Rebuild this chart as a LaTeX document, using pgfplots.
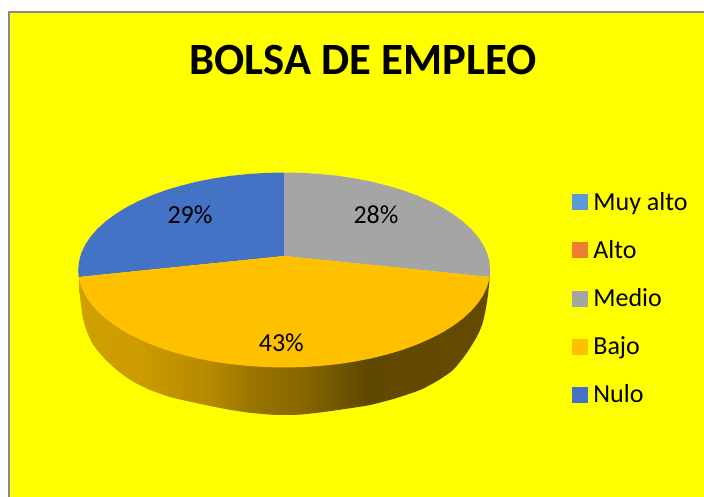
\documentclass[border=0pt]{standalone}
\usepackage{fontspec}
\setmainfont{Carlito}
\usepackage{pgfplots}
\pgfplotsset{compat=1.18}
\definecolor{cYellow}{rgb}{1,1,0}
\definecolor{cBlue}{HTML}{4472C4}
\definecolor{cGray}{HTML}{A5A5A5}
\definecolor{cOrange}{HTML}{FFC000}
\definecolor{cLight}{HTML}{5B9BD5}
\definecolor{cRed}{HTML}{ED7D31}
\definecolor{cEdge}{HTML}{888888}
\definecolor{sA}{HTML}{D0A000}
\definecolor{sB}{HTML}{CC9C00}
\definecolor{sC}{HTML}{B58900}
\definecolor{sD}{HTML}{9B7500}
\definecolor{sE}{HTML}{8A6800}
\definecolor{sF}{HTML}{705500}
\definecolor{sG}{HTML}{5C4500}
\definecolor{sH}{HTML}{614900}
\definecolor{sI}{HTML}{634A00}
% side of the pie; the path fills 25bp..75bp of the shading
\pgfdeclarehorizontalshading{pieside}{100bp}{
  color(0bp)=(sA); color(25bp)=(sA);
  color(32.4bp)=(sB); color(41bp)=(sC);
  color(45.8bp)=(sD); color(51.9bp)=(sE);
  color(56.8bp)=(sF); color(60.4bp)=(sG);
  color(62.3bp)=(sH); color(75bp)=(sI);
  color(100bp)=(sI)
}
\pgfplotsset{
  swatch/.style={legend image code/.code={\fill[#1] (0bp,-7.5bp) rectangle (15bp,7.5bp);}}
}
\begin{document}
\begin{tikzpicture}
\begin{axis}[
  scale only axis,
  width=704bp, height=497bp,
  xmin=0, xmax=704, ymin=0, ymax=497,
  y dir=reverse,
  hide axis,
  legend style={
    at={(axis cs:572,190)}, anchor=north west,
    draw=none, fill=none, inner sep=0pt, outer sep=0pt,
    row sep=24.7bp, column sep=4bp,
    cells={anchor=west},
    font=\fontsize{26bp}{28bp}\selectfont
  },
]
% page and chart area
\addplot[forget plot, fill=white, draw=none] coordinates {(0,0) (704,0) (704,497) (0,497)} \closedcycle;
\addplot[forget plot, fill=cYellow, draw=none] coordinates {(8.8,12) (704,12) (704,497) (8.8,497)} \closedcycle;
\addplot[forget plot, draw=cEdge, line width=1.5bp] coordinates {(8.8,497) (8.8,12) (704,12)};

% side of the pie
\addplot[forget plot, shading=pieside, draw=none, smooth, tension=0.4] coordinates {
(79,277) (79.5,290) (81,305) (83.3,320) (87.5,333) (93.3,345) (104,358) (116.7,370)
(132,381) (150,390) (170,397) (190,401.7) (210,406) (230,409.8) (250,412.8) (270,414.6)
(284,415) (300,414.6) (320,412.5) (345,409) (370,405) (395,398.5) (420,390) (438,380.5)
(453,370) (466,354) (476.7,337) (482,325) (485,313) (488,295) (489.7,277)
};

% Nulo 29%
\addplot[forget plot, fill=cBlue, draw=none] coordinates {
(284.2,256) (284.2,172.5) (266.2,172.9) (248.4,174.0) (230.9,175.8) (213.7,178.4)
(197.1,181.6) (181.2,185.6) (166.0,190.1) (151.8,195.3) (138.5,201.1) (126.4,207.3)
(115.4,214.1) (105.8,221.2) (97.5,228.8) (90.6,236.7) (85.2,244.8) (81.3,253.1)
(79.0,261.5) (78.2,270) (78.7,277)
} -- cycle;
% Medio 28%
\addplot[forget plot, fill=cGray, draw=none] coordinates {
(284.2,256) (284.2,172.5) (302.2,172.9) (320.0,174.0) (337.5,175.8) (354.7,178.4)
(371.3,181.6) (387.2,185.6) (402.4,190.1) (416.6,195.3) (429.9,201.1) (442.0,207.3)
(453.0,214.1) (462.6,221.2) (470.9,228.8) (477.8,236.7) (483.2,244.8) (487.1,253.1)
(489.4,261.5) (490.2,270) (489.7,277)
} -- cycle;
% Bajo 43%
\addplot[forget plot, fill=cOrange, draw=none] coordinates {
(284.2,256) (78.7,277) (79.0,278.5) (81.3,286.9) (85.2,295.2) (90.6,303.3) (97.5,311.2)
(105.8,318.8) (115.4,325.9) (126.4,332.7) (138.5,338.9) (151.8,344.7) (166.0,349.9)
(181.2,354.4) (197.1,358.4) (213.7,361.6) (230.9,364.2) (248.4,366.0) (266.2,367.1)
(284.2,367.5) (302.2,367.1) (320.0,366.0) (337.5,364.2) (354.7,361.6) (371.3,358.4)
(387.2,354.4) (402.4,349.9) (416.6,344.7) (429.9,338.9) (442.0,332.7) (453.0,325.9)
(462.6,318.8) (470.9,311.2) (477.8,303.3) (483.2,295.2) (487.1,286.9) (489.4,278.5)
(489.7,277)
} -- cycle;

\addlegendimage{swatch=cLight}
\addlegendentry{Muy alto}
\addlegendimage{swatch=cRed}
\addlegendentry{Alto}
\addlegendimage{swatch=cGray}
\addlegendentry{Medio}
\addlegendimage{swatch=cOrange}
\addlegendentry{Bajo}
\addlegendimage{swatch=cBlue}
\addlegendentry{Nulo}

\node[anchor=base, inner sep=0pt, font=\fontsize{26bp}{28bp}\selectfont] at (axis cs:190,223) {29\%};
\node[anchor=base, inner sep=0pt, font=\fontsize{26bp}{28bp}\selectfont] at (axis cs:376,223) {28\%};
\node[anchor=base, inner sep=0pt, font=\fontsize{26bp}{28bp}\selectfont] at (axis cs:281.3,351) {43\%};
\node[anchor=base, inner sep=0pt, font=\fontsize{44.7bp}{48bp}\selectfont\bfseries] at (axis cs:363,75) {BOLSA DE EMPLEO};
\end{axis}
\end{tikzpicture}
\end{document}
